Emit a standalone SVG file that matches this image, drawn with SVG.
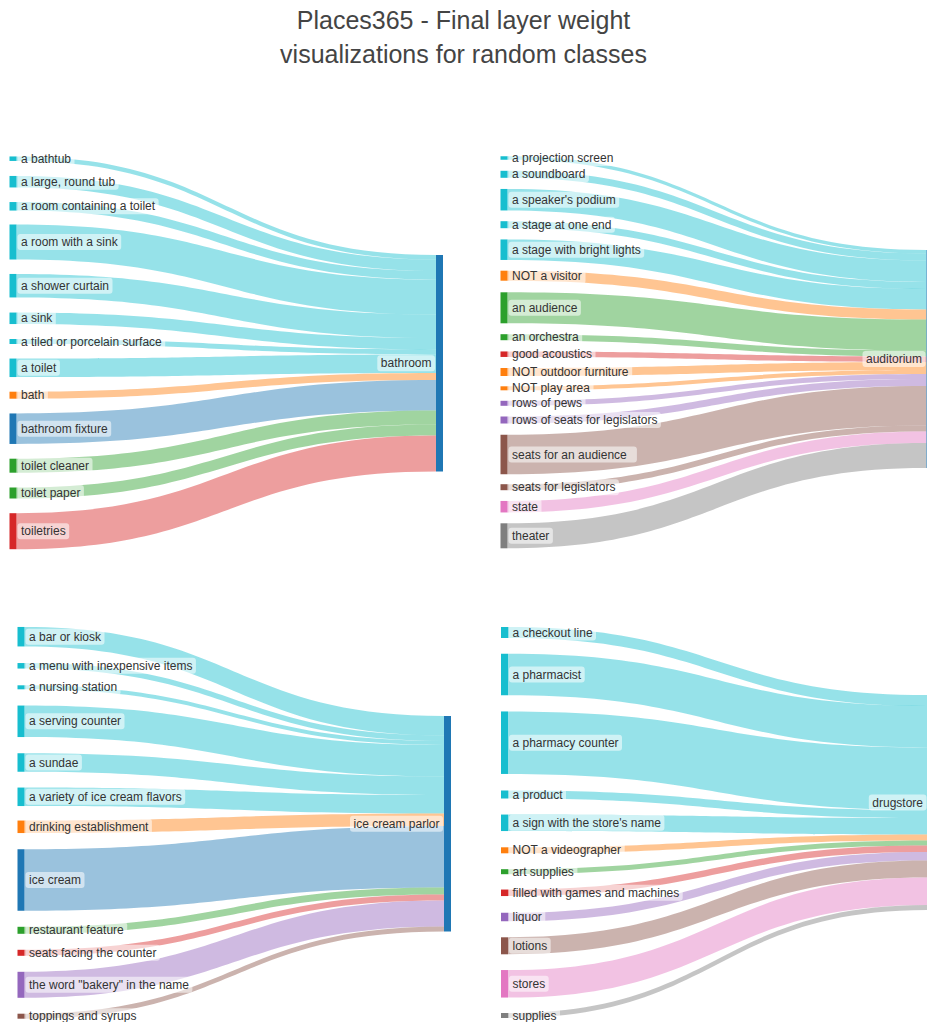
<svg xmlns="http://www.w3.org/2000/svg" width="927" height="1022" viewBox="0 0 927 1022">
<style>
.t{font-family:"Liberation Sans",Arial,sans-serif;font-size:12px;fill:#333}
.tt{font-family:"Liberation Sans",Arial,sans-serif;font-size:25px;fill:#444;text-anchor:middle}
.e{text-anchor:end}
.lb{fill:#fff;fill-opacity:.55}
.lk path{fill-opacity:.45}
.c{fill:#17becf}.o{fill:#ff7f0e}.b{fill:#1f77b4}.g{fill:#2ca02c}.r{fill:#d62728}.p{fill:#9467bd}.br{fill:#8c564b}.pk{fill:#e377c2}.gy{fill:#7f7f7f}
</style>
<rect width="927" height="1022" fill="#fff"/>
<g id="title"><text class="tt" x="463.5" y="29">Places365 - Final layer weight</text><text class="tt" x="463.5" y="63">visualizations for random classes</text></g>
<g id="connectors" class="lk">
<!-- bathroom -->
<path class="c" d="M16.5,156.45 C226.25,156.45 226.25,255 436,255 L436,259.5 C226.25,259.5 226.25,160.95 16.5,160.95 Z"/>
<path class="c" d="M16.5,175.95 C226.25,175.95 226.25,259.5 436,259.5 L436,271 C226.25,271 226.25,187.45 16.5,187.45 Z"/>
<path class="c" d="M16.5,202.05 C226.25,202.05 226.25,271 436,271 L436,279.5 C226.25,279.5 226.25,210.55 16.5,210.55 Z"/>
<path class="c" d="M16.5,224.5 C226.25,224.5 226.25,279.5 436,279.5 L436,314.5 C226.25,314.5 226.25,259.5 16.5,259.5 Z"/>
<path class="c" d="M16.5,273.95 C226.25,273.95 226.25,314.5 436,314.5 L436,338 C226.25,338 226.25,297.45 16.5,297.45 Z"/>
<path class="c" d="M16.5,312.55 C226.25,312.55 226.25,338 436,338 L436,349.5 C226.25,349.5 226.25,324.05 16.5,324.05 Z"/>
<path class="c" d="M16.5,339 C226.25,339 226.25,349.5 436,349.5 L436,354.5 C226.25,354.5 226.25,344 16.5,344 Z"/>
<path class="c" d="M16.5,358.55 C226.25,358.55 226.25,354.5 436,354.5 L436,373 C226.25,373 226.25,377.05 16.5,377.05 Z"/>
<path class="o" d="M16.5,391.7 C226.25,391.7 226.25,373 436,373 L436,380 C226.25,380 226.25,398.7 16.5,398.7 Z"/>
<path class="b" d="M16.5,413.45 C226.25,413.45 226.25,380 436,380 L436,410.5 C226.25,410.5 226.25,443.95 16.5,443.95 Z"/>
<path class="g" d="M16.5,458.7 C226.25,458.7 226.25,410.5 436,410.5 L436,424.5 C226.25,424.5 226.25,472.7 16.5,472.7 Z"/>
<path class="g" d="M16.5,487.5 C226.25,487.5 226.25,424.5 436,424.5 L436,435.5 C226.25,435.5 226.25,498.5 16.5,498.5 Z"/>
<path class="r" d="M16.5,513.2 C226.25,513.2 226.25,435.5 436,435.5 L436,471.5 C226.25,471.5 226.25,549.2 16.5,549.2 Z"/>
<!-- auditorium -->
<path class="c" d="M507.5,156.25 C717,156.25 717,250 926.5,250 L926.5,253.5 C717,253.5 717,159.75 507.5,159.75 Z"/>
<path class="c" d="M507.5,170.8 C717,170.8 717,253.5 926.5,253.5 L926.5,260.5 C717,260.5 717,177.8 507.5,177.8 Z"/>
<path class="c" d="M507.5,188.95 C717,188.95 717,260.5 926.5,260.5 L926.5,282 C717,282 717,210.45 507.5,210.45 Z"/>
<path class="c" d="M507.5,221.2 C717,221.2 717,282 926.5,282 L926.5,289 C717,289 717,228.2 507.5,228.2 Z"/>
<path class="c" d="M507.5,239.45 C717,239.45 717,289 926.5,289 L926.5,309.5 C717,309.5 717,259.95 507.5,259.95 Z"/>
<path class="o" d="M507.5,270.7 C717,270.7 717,309.5 926.5,309.5 L926.5,319.5 C717,319.5 717,280.7 507.5,280.7 Z"/>
<path class="g" d="M507.5,292.3 C717,292.3 717,319.5 926.5,319.5 L926.5,350.5 C717,350.5 717,323.3 507.5,323.3 Z"/>
<path class="g" d="M507.5,334.2 C717,334.2 717,350.5 926.5,350.5 L926.5,356.5 C717,356.5 717,340.2 507.5,340.2 Z"/>
<path class="r" d="M507.5,351.45 C717,351.45 717,356.5 926.5,356.5 L926.5,362 C717,362 717,356.95 507.5,356.95 Z"/>
<path class="o" d="M507.5,368 C717,368 717,362 926.5,362 L926.5,370 C717,370 717,376 507.5,376 Z"/>
<path class="o" d="M507.5,386.3 C717,386.3 717,370 926.5,370 L926.5,374 C717,374 717,390.3 507.5,390.3 Z"/>
<path class="p" d="M507.5,400.8 C717,400.8 717,374 926.5,374 L926.5,379 C717,379 717,405.8 507.5,405.8 Z"/>
<path class="p" d="M507.5,416.5 C717,416.5 717,379 926.5,379 L926.5,386 C717,386 717,423.5 507.5,423.5 Z"/>
<path class="br" d="M507.5,434.75 C717,434.75 717,386 926.5,386 L926.5,425.5 C717,425.5 717,474.25 507.5,474.25 Z"/>
<path class="br" d="M507.5,484.2 C717,484.2 717,425.5 926.5,425.5 L926.5,431.5 C717,431.5 717,490.2 507.5,490.2 Z"/>
<path class="pk" d="M507.5,500.95 C717,500.95 717,431.5 926.5,431.5 L926.5,443 C717,443 717,512.45 507.5,512.45 Z"/>
<path class="gy" d="M507.5,523.3 C717,523.3 717,443 926.5,443 L926.5,468 C717,468 717,548.3 507.5,548.3 Z"/>
<!-- ice cream parlor -->
<path class="c" d="M24.5,626.95 C234.25,626.95 234.25,716 444,716 L444,735.5 C234.25,735.5 234.25,646.45 24.5,646.45 Z"/>
<path class="c" d="M24.5,663.05 C234.25,663.05 234.25,735.5 444,735.5 L444,741 C234.25,741 234.25,668.55 24.5,668.55 Z"/>
<path class="c" d="M24.5,685.3 C234.25,685.3 234.25,741 444,741 L444,745 C234.25,745 234.25,689.3 24.5,689.3 Z"/>
<path class="c" d="M24.5,705.55 C234.25,705.55 234.25,745 444,745 L444,776.5 C234.25,776.5 234.25,737.05 24.5,737.05 Z"/>
<path class="c" d="M24.5,753.25 C234.25,753.25 234.25,776.5 444,776.5 L444,795 C234.25,795 234.25,771.75 24.5,771.75 Z"/>
<path class="c" d="M24.5,787.55 C234.25,787.55 234.25,795 444,795 L444,813.5 C234.25,813.5 234.25,806.05 24.5,806.05 Z"/>
<path class="o" d="M24.5,820.55 C234.25,820.55 234.25,813.5 444,813.5 L444,826 C234.25,826 234.25,833.05 24.5,833.05 Z"/>
<path class="b" d="M24.5,849.25 C234.25,849.25 234.25,826 444,826 L444,887.5 C234.25,887.5 234.25,910.75 24.5,910.75 Z"/>
<path class="g" d="M24.5,926.8 C234.25,926.8 234.25,887.5 444,887.5 L444,894.5 C234.25,894.5 234.25,933.8 24.5,933.8 Z"/>
<path class="r" d="M24.5,949.8 C234.25,949.8 234.25,894.5 444,894.5 L444,900.5 C234.25,900.5 234.25,955.8 24.5,955.8 Z"/>
<path class="p" d="M24.5,971.8 C234.25,971.8 234.25,900.5 444,900.5 L444,926.5 C234.25,926.5 234.25,997.8 24.5,997.8 Z"/>
<path class="br" d="M24.5,1013.7 C234.25,1013.7 234.25,926.5 444,926.5 L444,931.5 C234.25,931.5 234.25,1018.7 24.5,1018.7 Z"/>
<!-- drugstore -->
<path class="c" d="M508,627 C717.75,627 717.75,695 927.5,695 L927.5,706 C717.75,706 717.75,638 508,638 Z"/>
<path class="c" d="M508,653.75 C717.75,653.75 717.75,706 927.5,706 L927.5,747.5 C717.75,747.5 717.75,695.25 508,695.25 Z"/>
<path class="c" d="M508,711.45 C717.75,711.45 717.75,747.5 927.5,747.5 L927.5,810 C717.75,810 717.75,773.95 508,773.95 Z"/>
<path class="c" d="M508,790.5 C717.75,790.5 717.75,810 927.5,810 L927.5,818 C717.75,818 717.75,798.5 508,798.5 Z"/>
<path class="c" d="M508,814.55 C717.75,814.55 717.75,818 927.5,818 L927.5,834.5 C717.75,834.5 717.75,831.05 508,831.05 Z"/>
<path class="o" d="M508,847.3 C717.75,847.3 717.75,834.5 927.5,834.5 L927.5,840.5 C717.75,840.5 717.75,853.3 508,853.3 Z"/>
<path class="g" d="M508,869.2 C717.75,869.2 717.75,840.5 927.5,840.5 L927.5,845.5 C717.75,845.5 717.75,874.2 508,874.2 Z"/>
<path class="r" d="M508,889.55 C717.75,889.55 717.75,845.5 927.5,845.5 L927.5,852 C717.75,852 717.75,896.05 508,896.05 Z"/>
<path class="p" d="M508,912.75 C717.75,912.75 717.75,852 927.5,852 L927.5,860.5 C717.75,860.5 717.75,921.25 508,921.25 Z"/>
<path class="br" d="M508,937.3 C717.75,937.3 717.75,860.5 927.5,860.5 L927.5,877.5 C717.75,877.5 717.75,954.3 508,954.3 Z"/>
<path class="pk" d="M508,970.05 C717.75,970.05 717.75,877.5 927.5,877.5 L927.5,905 C717.75,905 717.75,997.55 508,997.55 Z"/>
<path class="gy" d="M508,1013 C717.75,1013 717.75,905 927.5,905 L927.5,910 C717.75,910 717.75,1018 508,1018 Z"/>
</g>
<!-- bathroom panel nodes -->
<g id="n-bathtub"><rect class="c" x="9.5" y="156.45" width="7" height="4.5"/><rect class="lb" x="17.5" y="150.7" width="57" height="16" rx="3"/><text class="t" x="21" y="162.7">a bathtub</text></g>
<g id="n-large-round-tub"><rect class="c" x="9.5" y="175.95" width="7" height="11.5"/><rect class="lb" x="17.5" y="173.7" width="101.1" height="16" rx="3"/><text class="t" x="21" y="185.7">a large, round tub</text></g>
<g id="n-room-containing-toilet"><rect class="c" x="9.5" y="202.05" width="7" height="8.5"/><rect class="lb" x="17.5" y="198.3" width="141.1" height="16" rx="3"/><text class="t" x="21" y="210.3">a room containing a toilet</text></g>
<g id="n-room-with-sink"><rect class="c" x="9.5" y="224.5" width="7" height="35"/><rect class="lb" x="17.5" y="234" width="103.7" height="16" rx="3"/><text class="t" x="21" y="246">a room with a sink</text></g>
<g id="n-shower-curtain"><rect class="c" x="9.5" y="273.95" width="7" height="23.5"/><rect class="lb" x="17.5" y="277.7" width="95" height="16" rx="3"/><text class="t" x="21" y="289.7">a shower curtain</text></g>
<g id="n-sink"><rect class="c" x="9.5" y="312.55" width="7" height="11.5"/><rect class="lb" x="17.5" y="310.3" width="38.3" height="16" rx="3"/><text class="t" x="21" y="322.3">a sink</text></g>
<g id="n-tiled"><rect class="c" x="9.5" y="339" width="7" height="5"/><rect class="lb" x="17.5" y="333.5" width="147.7" height="16" rx="3"/><text class="t" x="21" y="345.5">a tiled or porcelain surface</text></g>
<g id="n-toilet"><rect class="c" x="9.5" y="358.55" width="7" height="18.5"/><rect class="lb" x="17.5" y="359.8" width="42.4" height="16" rx="3"/><text class="t" x="21" y="371.8">a toilet</text></g>
<g id="n-bath"><rect class="o" x="9.5" y="391.7" width="7" height="7"/><rect class="lb" x="17.5" y="387.2" width="30.4" height="16" rx="3"/><text class="t" x="21" y="399.2">bath</text></g>
<g id="n-bathroom-fixture"><rect class="b" x="9.5" y="413.45" width="7" height="30.5"/><rect class="lb" x="17.5" y="420.7" width="93.7" height="16" rx="3"/><text class="t" x="21" y="432.7">bathroom fixture</text></g>
<g id="n-toilet-cleaner"><rect class="g" x="9.5" y="458.7" width="7" height="14"/><rect class="lb" x="17.5" y="457.7" width="75" height="16" rx="3"/><text class="t" x="21" y="469.7">toilet cleaner</text></g>
<g id="n-toilet-paper"><rect class="g" x="9.5" y="487.5" width="7" height="11"/><rect class="lb" x="17.5" y="485" width="66.4" height="16" rx="3"/><text class="t" x="21" y="497">toilet paper</text></g>
<g id="n-toiletries"><rect class="r" x="9.5" y="513.2" width="7" height="36"/><rect class="lb" x="17.5" y="523.2" width="51.7" height="16" rx="3"/><text class="t" x="21" y="535.2">toiletries</text></g>
<g id="n-bathroom"><rect class="b" x="436" y="255" width="7" height="216.5"/><rect class="lb" x="377.3" y="355.25" width="57.7" height="16" rx="3"/><text class="t e" x="431.5" y="367.25">bathroom</text></g>
<!-- auditorium panel nodes -->
<g id="n-projection-screen"><rect class="c" x="500.5" y="156.25" width="7" height="3.5"/><rect class="lb" x="508.5" y="150" width="108.4" height="16" rx="3"/><text class="t" x="512" y="162">a projection screen</text></g>
<g id="n-soundboard"><rect class="c" x="500.5" y="170.8" width="7" height="7"/><rect class="lb" x="508.5" y="166.3" width="80.4" height="16" rx="3"/><text class="t" x="512" y="178.3">a soundboard</text></g>
<g id="n-speakers-podium"><rect class="c" x="500.5" y="188.95" width="7" height="21.5"/><rect class="lb" x="508.5" y="191.7" width="110.7" height="16" rx="3"/><text class="t" x="512" y="203.7">a speaker's podium</text></g>
<g id="n-stage-one-end"><rect class="c" x="500.5" y="221.2" width="7" height="7"/><rect class="lb" x="508.5" y="216.7" width="106.4" height="16" rx="3"/><text class="t" x="512" y="228.7">a stage at one end</text></g>
<g id="n-stage-bright-lights"><rect class="c" x="500.5" y="239.45" width="7" height="20.5"/><rect class="lb" x="508.5" y="241.7" width="135.7" height="16" rx="3"/><text class="t" x="512" y="253.7">a stage with bright lights</text></g>
<g id="n-not-visitor"><rect class="o" x="500.5" y="270.7" width="7" height="10"/><rect class="lb" x="508.5" y="267.7" width="77" height="16" rx="3"/><text class="t" x="512" y="279.7">NOT a visitor</text></g>
<g id="n-audience"><rect class="g" x="500.5" y="292.3" width="7" height="31"/><rect class="lb" x="508.5" y="299.8" width="72.4" height="16" rx="3"/><text class="t" x="512" y="311.8">an audience</text></g>
<g id="n-orchestra"><rect class="g" x="500.5" y="334.2" width="7" height="6"/><rect class="lb" x="508.5" y="329.2" width="73.7" height="16" rx="3"/><text class="t" x="512" y="341.2">an orchestra</text></g>
<g id="n-good-acoustics"><rect class="r" x="500.5" y="351.45" width="7" height="5.5"/><rect class="lb" x="508.5" y="346.2" width="87" height="16" rx="3"/><text class="t" x="512" y="358.2">good acoustics</text></g>
<g id="n-not-outdoor-furniture"><rect class="o" x="500.5" y="368" width="7" height="8"/><rect class="lb" x="508.5" y="364" width="123.7" height="16" rx="3"/><text class="t" x="512" y="376">NOT outdoor furniture</text></g>
<g id="n-not-play-area"><rect class="o" x="500.5" y="386.3" width="7" height="4"/><rect class="lb" x="508.5" y="380.3" width="85" height="16" rx="3"/><text class="t" x="512" y="392.3">NOT play area</text></g>
<g id="n-rows-of-pews"><rect class="p" x="500.5" y="400.8" width="7" height="5"/><rect class="lb" x="508.5" y="395.3" width="77" height="16" rx="3"/><text class="t" x="512" y="407.3">rows of pews</text></g>
<g id="n-rows-of-seats"><rect class="p" x="500.5" y="416.5" width="7" height="7"/><rect class="lb" x="508.5" y="412" width="152.4" height="16" rx="3"/><text class="t" x="512" y="424">rows of seats for legislators</text></g>
<g id="n-seats-audience"><rect class="br" x="500.5" y="434.75" width="7" height="39.5"/><rect class="lb" x="508.5" y="446.5" width="128.4" height="16" rx="3"/><text class="t" x="512" y="458.5">seats for an audience</text></g>
<g id="n-seats-legislators"><rect class="br" x="500.5" y="484.2" width="7" height="6"/><rect class="lb" x="508.5" y="479.2" width="110.4" height="16" rx="3"/><text class="t" x="512" y="491.2">seats for legislators</text></g>
<g id="n-state"><rect class="pk" x="500.5" y="500.95" width="7" height="11.5"/><rect class="lb" x="508.5" y="498.7" width="33" height="16" rx="3"/><text class="t" x="512" y="510.7">state</text></g>
<g id="n-theater"><rect class="gy" x="500.5" y="523.3" width="7" height="25"/><rect class="lb" x="508.5" y="527.8" width="44.4" height="16" rx="3"/><text class="t" x="512" y="539.8">theater</text></g>
<g id="n-auditorium"><rect class="b" x="926.5" y="250" width="7" height="218"/><rect class="lb" x="862.5" y="351" width="63" height="16" rx="3"/><text class="t e" x="922" y="363">auditorium</text></g>
<!-- ice cream parlor panel nodes -->
<g id="n-bar-kiosk"><rect class="c" x="17.5" y="626.95" width="7" height="19.5"/><rect class="lb" x="25.5" y="628.7" width="79" height="16" rx="3"/><text class="t" x="29" y="640.7">a bar or kiosk</text></g>
<g id="n-menu"><rect class="c" x="17.5" y="663.05" width="7" height="5.5"/><rect class="lb" x="25.5" y="657.8" width="170.4" height="16" rx="3"/><text class="t" x="29" y="669.8">a menu with inexpensive items</text></g>
<g id="n-nursing-station"><rect class="c" x="17.5" y="685.3" width="7" height="4"/><rect class="lb" x="25.5" y="679.3" width="95" height="16" rx="3"/><text class="t" x="29" y="691.3">a nursing station</text></g>
<g id="n-serving-counter"><rect class="c" x="17.5" y="705.55" width="7" height="31.5"/><rect class="lb" x="25.5" y="713.3" width="99" height="16" rx="3"/><text class="t" x="29" y="725.3">a serving counter</text></g>
<g id="n-sundae"><rect class="c" x="17.5" y="753.25" width="7" height="18.5"/><rect class="lb" x="25.5" y="754.5" width="56.4" height="16" rx="3"/><text class="t" x="29" y="766.5">a sundae</text></g>
<g id="n-variety"><rect class="c" x="17.5" y="787.55" width="7" height="18.5"/><rect class="lb" x="25.5" y="788.8" width="159.7" height="16" rx="3"/><text class="t" x="29" y="800.8">a variety of ice cream flavors</text></g>
<g id="n-drinking"><rect class="o" x="17.5" y="820.55" width="7" height="12.5"/><rect class="lb" x="25.5" y="818.8" width="126.4" height="16" rx="3"/><text class="t" x="29" y="830.8">drinking establishment</text></g>
<g id="n-ice-cream"><rect class="b" x="17.5" y="849.25" width="7" height="61.5"/><rect class="lb" x="25.5" y="872" width="59" height="16" rx="3"/><text class="t" x="29" y="884">ice cream</text></g>
<g id="n-restaurant-feature"><rect class="g" x="17.5" y="926.8" width="7" height="7"/><rect class="lb" x="25.5" y="922.3" width="101.7" height="16" rx="3"/><text class="t" x="29" y="934.3">restaurant feature</text></g>
<g id="n-seats-facing"><rect class="r" x="17.5" y="949.8" width="7" height="6"/><rect class="lb" x="25.5" y="944.8" width="134.4" height="16" rx="3"/><text class="t" x="29" y="956.8">seats facing the counter</text></g>
<g id="n-bakery"><rect class="p" x="17.5" y="971.8" width="7" height="26"/><rect class="lb" x="25.5" y="976.8" width="166.9" height="16" rx="3"/><text class="t" x="29" y="988.8">the word "bakery" in the name</text></g>
<g id="n-toppings"><rect class="br" x="17.5" y="1013.7" width="7" height="5"/><rect class="lb" x="25.5" y="1008.2" width="114.4" height="16" rx="3"/><text class="t" x="29" y="1020.2">toppings and syrups</text></g>
<g id="n-ice-cream-parlor"><rect class="b" x="444" y="716" width="7" height="215.5"/><rect class="lb" x="350" y="815.75" width="93" height="16" rx="3"/><text class="t e" x="439.5" y="827.75">ice cream parlor</text></g>
<!-- drugstore panel nodes -->
<g id="n-checkout-line"><rect class="c" x="501" y="627" width="7" height="11"/><rect class="lb" x="509" y="624.5" width="87" height="16" rx="3"/><text class="t" x="512.5" y="636.5">a checkout line</text></g>
<g id="n-pharmacist"><rect class="c" x="501" y="653.75" width="7" height="41.5"/><rect class="lb" x="509" y="666.5" width="75.7" height="16" rx="3"/><text class="t" x="512.5" y="678.5">a pharmacist</text></g>
<g id="n-pharmacy-counter"><rect class="c" x="501" y="711.45" width="7" height="62.5"/><rect class="lb" x="509" y="734.7" width="113" height="16" rx="3"/><text class="t" x="512.5" y="746.7">a pharmacy counter</text></g>
<g id="n-product"><rect class="c" x="501" y="790.5" width="7" height="8"/><rect class="lb" x="509" y="786.5" width="57" height="16" rx="3"/><text class="t" x="512.5" y="798.5">a product</text></g>
<g id="n-sign"><rect class="c" x="501" y="814.55" width="7" height="16.5"/><rect class="lb" x="509" y="814.8" width="155.4" height="16" rx="3"/><text class="t" x="512.5" y="826.8">a sign with the store's name</text></g>
<g id="n-not-videographer"><rect class="o" x="501" y="847.3" width="7" height="6"/><rect class="lb" x="509" y="842.3" width="115.7" height="16" rx="3"/><text class="t" x="512.5" y="854.3">NOT a videographer</text></g>
<g id="n-art-supplies"><rect class="g" x="501" y="869.2" width="7" height="5"/><rect class="lb" x="509" y="863.7" width="68.4" height="16" rx="3"/><text class="t" x="512.5" y="875.7">art supplies</text></g>
<g id="n-games-machines"><rect class="r" x="501" y="889.55" width="7" height="6.5"/><rect class="lb" x="509" y="884.8" width="173.7" height="16" rx="3"/><text class="t" x="512.5" y="896.8">filled with games and machines</text></g>
<g id="n-liquor"><rect class="p" x="501" y="912.75" width="7" height="8.5"/><rect class="lb" x="509" y="909" width="36.3" height="16" rx="3"/><text class="t" x="512.5" y="921">liquor</text></g>
<g id="n-lotions"><rect class="br" x="501" y="937.3" width="7" height="17"/><rect class="lb" x="509" y="937.8" width="41.7" height="16" rx="3"/><text class="t" x="512.5" y="949.8">lotions</text></g>
<g id="n-stores"><rect class="pk" x="501" y="970.05" width="7" height="27.5"/><rect class="lb" x="509" y="975.8" width="39.7" height="16" rx="3"/><text class="t" x="512.5" y="987.8">stores</text></g>
<g id="n-supplies"><rect class="gy" x="501" y="1013" width="7" height="5"/><rect class="lb" x="509" y="1007.5" width="51" height="16" rx="3"/><text class="t" x="512.5" y="1019.5">supplies</text></g>
<g id="n-drugstore"><rect class="b" x="927.5" y="695" width="7" height="215"/><rect class="lb" x="868.8" y="794.5" width="57.7" height="16" rx="3"/><text class="t e" x="923" y="806.5">drugstore</text></g>
</svg>
